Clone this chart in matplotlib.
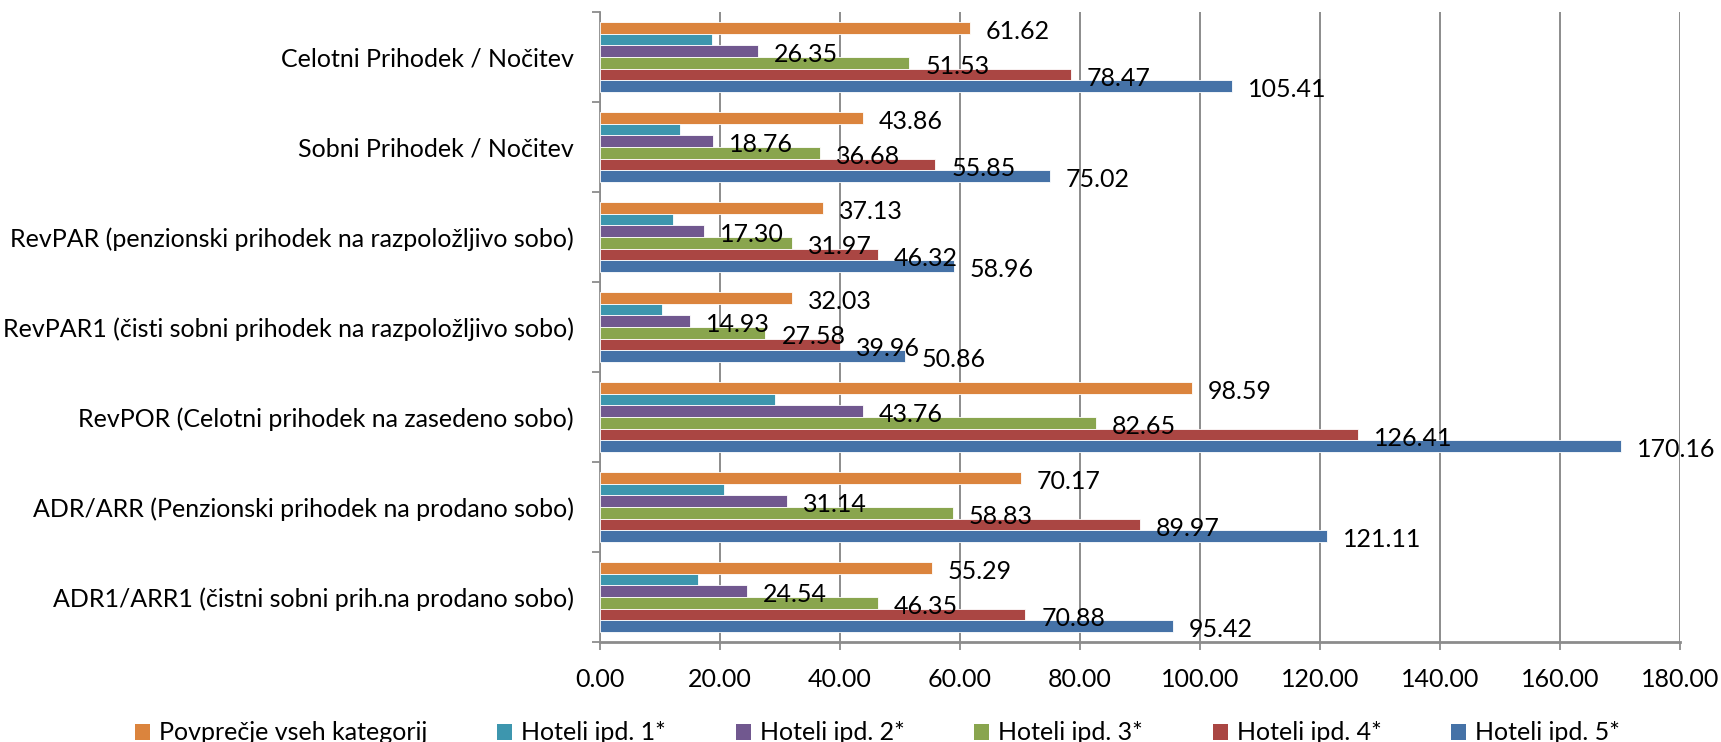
import numpy as np
import matplotlib.pyplot as plt
from matplotlib.patches import Patch

plt.rcParams['font.family'] = ['Lato', 'DejaVu Sans']

# Data
categories = [
    'Celotni Prihodek / Nočitev',
    'Sobni Prihodek / Nočitev',
    'RevPAR (penzionski prihodek na razpoložljivo sobo)',
    'RevPAR1 (čisti sobni prihodek na razpoložljivo sobo)',
    'RevPOR (Celotni prihodek na zasedeno sobo)',
    'ADR/ARR (Penzionski prihodek na prodano sobo)',
    'ADR1/ARR1 (čistni sobni prih.na prodano sobo)',
]
series_names = ['Povprečje vseh kategorij', 'Hoteli ipd. 1*', 'Hoteli ipd. 2*',
                'Hoteli ipd. 3*', 'Hoteli ipd. 4*', 'Hoteli ipd. 5*']

avg_all = [61.62, 43.86, 37.13, 32.03, 98.59, 70.17, 55.29]
hotel_1 = [18.7, 13.3, 12.2, 10.3, 29.2, 20.7, 16.3]   # no labels in the original
hotel_2 = [26.35, 18.76, 17.30, 14.93, 43.76, 31.14, 24.54]
hotel_3 = [51.53, 36.68, 31.97, 27.58, 82.65, 58.83, 46.35]
hotel_4 = [78.47, 55.85, 46.32, 39.96, 126.41, 89.97, 70.88]
hotel_5 = [105.41, 75.02, 58.96, 50.86, 170.16, 121.11, 95.42]

x_ticks = [0, 20, 40, 60, 80, 100, 120, 140, 160, 180]

colors = ['#DB843D', '#3D96AE', '#71588F', '#89A54E', '#AA4643', '#4572A7']
show_labels = [True, False, True, True, True, True]
all_series = [avg_all, hotel_1, hotel_2, hotel_3, hotel_4, hotel_5]

fs = 18
grid_col = '#8C8C8C'

fig = plt.figure(figsize=(17.21, 7.42), dpi=100)
ax = fig.add_axes([600 / 1721, 1 - 642 / 742, 1080 / 1721, 630 / 742])

y = np.arange(len(categories))
h = 0.13

for i, (vals, col) in enumerate(zip(all_series, colors)):
    offs = (i - 2.5) * h
    bars = ax.barh(y + offs, vals, height=h, color=col, edgecolor='white',
                   linewidth=0.6, zorder=3)
    if show_labels[i]:
        for bar, v in zip(bars, vals):
            ax.annotate(f'{v:.2f}', xy=(bar.get_width(), bar.get_y() + h / 2),
                        xytext=(11.5, -2.5), textcoords='offset points',
                        ha='left', va='center', fontsize=fs, zorder=5)

ax.set_xlim(0, 180)
ax.set_ylim(len(categories) - 0.5, -0.5)
ax.set_xticks(x_ticks)
ax.set_xticklabels([f'{t:.2f}' for t in x_ticks], fontsize=fs)

# category labels at centers, tick marks at the boundaries (Excel style)
ax.set_yticks(y)
ax.set_yticklabels(categories, fontsize=fs)
ax.set_yticks(np.arange(-0.5, len(categories)), minor=True)
ax.tick_params(axis='y', which='major', length=0, pad=19)
ax.tick_params(axis='y', which='minor', length=6, width=1.3, color=grid_col)
ax.tick_params(axis='x', length=6, width=1.3, color=grid_col, pad=13)

ax.xaxis.grid(True, color=grid_col, linewidth=1.4, zorder=0)
ax.set_axisbelow(True)
for s in ['top', 'right']:
    ax.spines[s].set_visible(False)
ax.spines['left'].set_color(grid_col)
ax.spines['left'].set_linewidth(1.3)
ax.spines['bottom'].set_color(grid_col)
ax.spines['bottom'].set_linewidth(2)

# Legend along the bottom
handles = [Patch(facecolor=c, edgecolor='none') for c in colors]
fig.legend(handles, series_names, loc='center', ncol=6, frameon=False,
           bbox_to_anchor=(0.51, 1 - 733 / 742), fontsize=fs,
           handlelength=0.6, handleheight=0.6, handletextpad=0.35,
           columnspacing=2.8)

plt.savefig('out.png', dpi=100)
